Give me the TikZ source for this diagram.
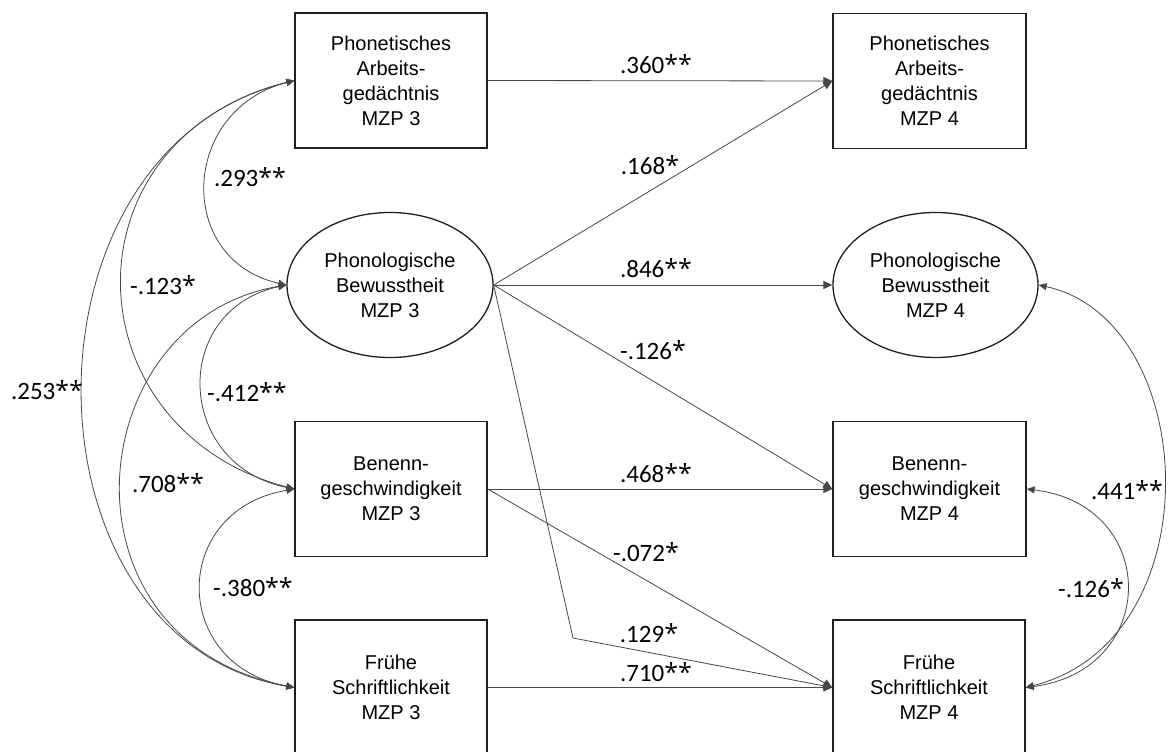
\documentclass[tikz,border=0pt]{standalone}
\usepackage{fontspec}
\setmainfont{Liberation Sans}
\newfontfamily\labfont{Carlito}
\newfontfamily\astfont{Open Sans}
\newcommand\sg{{\astfont *}}
\usetikzlibrary{arrows.meta,shapes.geometric}
\begin{document}
\begin{tikzpicture}[x=1pt,y=-1pt,
  box/.style={draw=black!88, line width=1.3pt, minimum width=192pt, minimum height=135pt,
    align=center, font=\fontsize{20}{25}\selectfont, inner sep=0pt},
  ell/.style={ellipse, draw=black!88, line width=1.3pt, minimum width=206pt, minimum height=145pt,
    align=center, font=\fontsize{20}{25}\selectfont, inner sep=0pt},
  conn/.style={draw=black!72, line width=0.8pt, -{Triangle[length=9pt,width=8pt]}},
  cov/.style={draw=black!72, line width=0.8pt,
    {Triangle[length=8pt,width=7pt]}-{Triangle[length=8pt,width=7pt]}},
  lab/.style={font=\labfont\fontsize{25}{30}\selectfont, inner sep=0pt}
]
\useasboundingbox[fill=white] (0,0) rectangle (1168,752);

% left column
\node[box] (b1) at (391,80.5) {Phonetisches\\Arbeits-\\gedächtnis\\MZP 3};
\node[ell] (e1) at (390,285) {Phonologische\\Bewusstheit\\MZP 3};
\node[box] (b3) at (391,489) {Benenn-\\geschwindigkeit\\MZP 3};
\node[box] (b4) at (391,687.5) {Frühe\\Schriftlichkeit\\MZP 3};

% right column
\node[box, minimum width=193pt] (rb1) at (929.5,81) {Phonetisches\\Arbeits-\\gedächtnis\\MZP 4};
\node[ell, minimum width=205pt] (re) at (935.5,285) {Phonologische\\Bewusstheit\\MZP 4};
\node[box, minimum width=193pt] (rb3) at (929.5,489) {Benenn-\\geschwindigkeit\\MZP 4};
\node[box] (rb4) at (929,687.5) {Frühe\\Schriftlichkeit\\MZP 4};

\coordinate (bend) at (573,638);

% regression paths
\draw[conn] (b1.east) -- (rb1.west);
\draw[conn] (e1.east) -- (rb1.west);
\draw[conn] (e1.east) -- (re.west);
\draw[conn] (e1.east) -- (rb3.west);
\draw[conn] (b3.east) -- (rb3.west);
\draw[conn] (b3.east) -- (rb4.west);
\draw[conn] (e1.east) -- (bend) -- (rb4.west);
\draw[conn] (b4.east) -- (rb4.west);

% left covariances
\draw[cov] (b1.west) .. controls (180,110) and (175,260) .. (e1.west);
\draw[cov] (b1.west) .. controls (60,140) and (70,430) .. (b3.west);
\draw[cov] (b1.west) .. controls (10,150) and (15,640) .. (b4.west);
\draw[cov] (e1.west) .. controls (170,310) and (175,465) .. (b3.west);
\draw[cov] (e1.west) .. controls (80,320) and (50,640) .. (b4.west);
\draw[cov] (b3.west) .. controls (170,510) and (170,665) .. (b4.west);

% right covariances
\draw[cov] (re.east) .. controls (1200,320) and (1215,640) .. (rb4.east);
\draw[cov] (rb3.east) .. controls (1160,505) and (1160,670) .. (rb4.east);

% labels
\node[lab] (l1) at (656,64) {.360\sg\sg};
\node[lab] (l2) at (650,165) {.168\sg};
\node[lab] (l3) at (656,268) {.846\sg\sg};
\node[lab] (l4) at (653,350) {-.126\sg};
\node[lab] (l5) at (656,473) {.468\sg\sg};
\node[lab] (l6) at (646,552) {-.072\sg};
\node[lab] (l7) at (649,633) {.129\sg};
\node[lab] (l8) at (656,672) {.710\sg\sg};
\node[lab] (l9) at (250,177) {.293\sg\sg};
\node[lab] (l10) at (163,285) {-.123\sg};
\node[lab] (l11) at (47,390) {.253\sg\sg};
\node[lab] (l12) at (247,392) {-.412\sg\sg};
\node[lab] (l13) at (168,483) {.708\sg\sg};
\node[lab] (l14) at (253,587) {-.380\sg\sg};
\node[lab] (l15) at (1127,490) {.441\sg\sg};
\node[lab] (l16) at (1091,588) {-.126\sg};
\end{tikzpicture}
\end{document}
